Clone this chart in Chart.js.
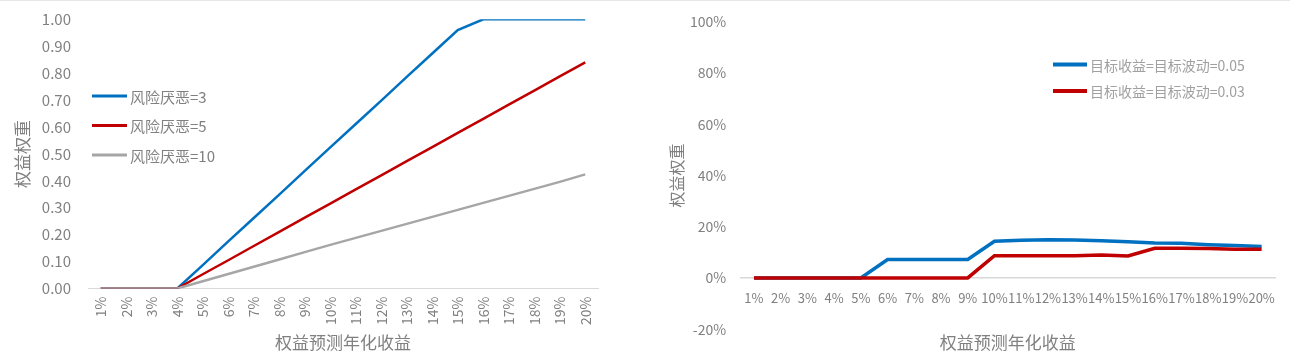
<!DOCTYPE html>
<html>
<head>
<meta charset="utf-8">
<script src="https://cdn.jsdelivr.net/npm/chart.js@4.4.0/dist/chart.umd.min.js"></script>
<style>
  html, body { margin: 0; padding: 0; background: #fff; }
  body { width: 1290px; height: 360px; position: relative; overflow: hidden; }
  .topline { position: absolute; left: 0; top: 0; width: 1290px; height: 1px; background: #e6e6e6; }
  #left { position: absolute; left: 0; top: 0; }
  #right { position: absolute; left: 640px; top: 0; }
</style>
</head>
<body>
<div class="topline"></div>
<canvas id="left" width="640" height="360"></canvas>
<canvas id="right" width="650" height="360"></canvas>
<script>
  // x categories, shared by both charts
  const categories = ['1%','2%','3%','4%','5%','6%','7%','8%','9%','10%',
                      '11%','12%','13%','14%','15%','16%','17%','18%','19%','20%'];

  // left chart: equity weight by risk aversion
  const averse3  = [0,0,0,0,0.087,0.175,0.262,0.349,0.437,0.524,0.611,0.698,0.786,0.873,0.96,1,1,1,1,1];
  const averse5  = [0,0,0,0,0.053,0.105,0.158,0.21,0.263,0.315,0.368,0.42,0.473,0.525,0.578,0.63,0.683,0.735,0.788,0.84];
  const averse10 = [0,0,0,0,0.027,0.054,0.081,0.108,0.135,0.162,0.188,0.214,0.24,0.266,0.292,0.318,0.344,0.37,0.396,0.424];
  const leftLabels = ['风险厌恶=3', '风险厌恶=5', '风险厌恶=10'];

  // right chart: equity weight by target return / vol
  const target05 = [0,0,0,0,0,0.072,0.072,0.072,0.072,0.143,0.147,0.149,0.148,0.145,0.141,0.136,0.135,0.13,0.127,0.123];
  const target03 = [0,0,0,0,0,0,0,0,0,0.087,0.087,0.087,0.087,0.09,0.086,0.116,0.116,0.115,0.112,0.112];
  const rightLabels = ['目标收益=目标波动=0.05', '目标收益=目标波动=0.03'];

  const xTitle = '权益预测年化收益';
  const yTitle = '权益权重';

  const BLUE = '#0070C0', RED = '#C00000', GRAY = '#A6A6A6';
  const TXT = '#808080';
  const FONT = '"Noto Sans CJK SC", "Noto Sans", sans-serif';

  // simple legend drawn inside the plot, Excel style
  const lineLegend = {
    id: 'lineLegend',
    afterDraw(chart, args, opts) {
      const ctx = chart.ctx;
      ctx.save();
      ctx.font = opts.size + 'px ' + FONT;
      ctx.textBaseline = 'middle';
      chart.data.datasets.forEach((ds, i) => {
        const y = opts.y + i * opts.gap;
        ctx.strokeStyle = ds.borderColor;
        ctx.lineWidth = opts.lineWidth;
        ctx.beginPath();
        ctx.moveTo(opts.x, y);
        ctx.lineTo(opts.x + opts.len, y);
        ctx.stroke();
        ctx.fillStyle = opts.color;
        ctx.fillText(ds.label, opts.x + opts.len + 3, y + 1);
      });
      ctx.restore();
    }
  };

  function line(label, data, color, width, order) {
    return { label, data, borderColor: color, backgroundColor: color, borderWidth: width,
             pointRadius: 0, tension: 0, order };
  }

  // y axis: fixed width, and no extra top/bottom padding from the tick labels
  function fixY(width) {
    return s => { s.width = width; s.paddingTop = 0; s.paddingBottom = 0; };
  }

  new Chart(document.getElementById('left'), {
    type: 'line',
    data: {
      labels: categories,
      datasets: [
        line(leftLabels[0], averse3, BLUE, 2.5, 2),
        line(leftLabels[1], averse5, RED, 2.5, 1),
        line(leftLabels[2], averse10, GRAY, 2.5, 0)
      ]
    },
    plugins: [lineLegend],
    options: {
      responsive: false,
      animation: false,
      layout: { padding: { top: 19.3, right: 42, bottom: 0, left: 0 } },
      plugins: {
        legend: { display: false },
        tooltip: { enabled: false },
        lineLegend: { x: 92, y: 96, gap: 29.5, len: 35, lineWidth: 3, size: 15, color: TXT }
      },
      scales: {
        x: {
          offset: true,
          grid: { display: false, drawTicks: false },
          border: { display: true, color: '#d9d9d9', width: 1 },
          ticks: { color: TXT, font: { family: FONT, size: 14 }, minRotation: 90, maxRotation: 90,
                   autoSkip: false, padding: 8 },
          title: { display: true, text: xTitle, color: TXT, font: { family: FONT, size: 17 },
                   padding: { top: 0, bottom: 7 } },
          afterFit: s => { s.height = 71.5; }
        },
        y: {
          min: 0, max: 1,
          grid: { display: false, drawTicks: false },
          border: { display: false },
          ticks: { stepSize: 0.1, color: TXT, font: { family: FONT, size: 15 }, padding: 17,
                   callback: v => v.toFixed(2) },
          title: { display: true, text: yTitle, color: TXT, font: { family: FONT, size: 17 },
                   padding: { top: 12, bottom: 0 } },
          afterFit: fixY(88)
        }
      }
    }
  });

  new Chart(document.getElementById('right'), {
    type: 'line',
    data: {
      labels: categories,
      datasets: [
        line(rightLabels[0], target05, BLUE, 3.5, 1),
        line(rightLabels[1], target03, RED, 3.5, 0)
      ]
    },
    plugins: [lineLegend],
    options: {
      responsive: false,
      animation: false,
      layout: { padding: { top: 21.7, right: 15, bottom: 0, left: 0 } },
      plugins: {
        legend: { display: false },
        tooltip: { enabled: false },
        title: { display: true, position: 'bottom', fullSize: false, text: xTitle, color: TXT,
                 font: { family: FONT, size: 17, weight: 'normal' }, padding: { top: 3.4, bottom: 7 } },
        lineLegend: { x: 413, y: 64.5, gap: 26.4, len: 34, lineWidth: 4, size: 14, color: '#a0a0a0' }
      },
      scales: {
        x: {
          position: { y: 0 },
          offset: true,
          grid: { display: false, drawTicks: false },
          border: { display: true, color: '#d9d9d9', width: 1.5 },
          ticks: { color: TXT, font: { family: FONT, size: 13 }, minRotation: 0, maxRotation: 0,
                   autoSkip: false, padding: 12 },
          afterFit: s => { s.height = 3; }
        },
        y: {
          min: -0.2, max: 1,
          grid: { display: false, drawTicks: false },
          border: { display: false },
          ticks: { stepSize: 0.2, color: TXT, font: { family: FONT, size: 14 }, padding: 14.5,
                   callback: v => Math.round(v * 100) + '%' },
          title: { display: true, text: yTitle, color: TXT, font: { family: FONT, size: 16 },
                   padding: { top: 27, bottom: 0 } },
          afterFit: fixY(100.6)
        }
      }
    }
  });
</script>
</body>
</html>
